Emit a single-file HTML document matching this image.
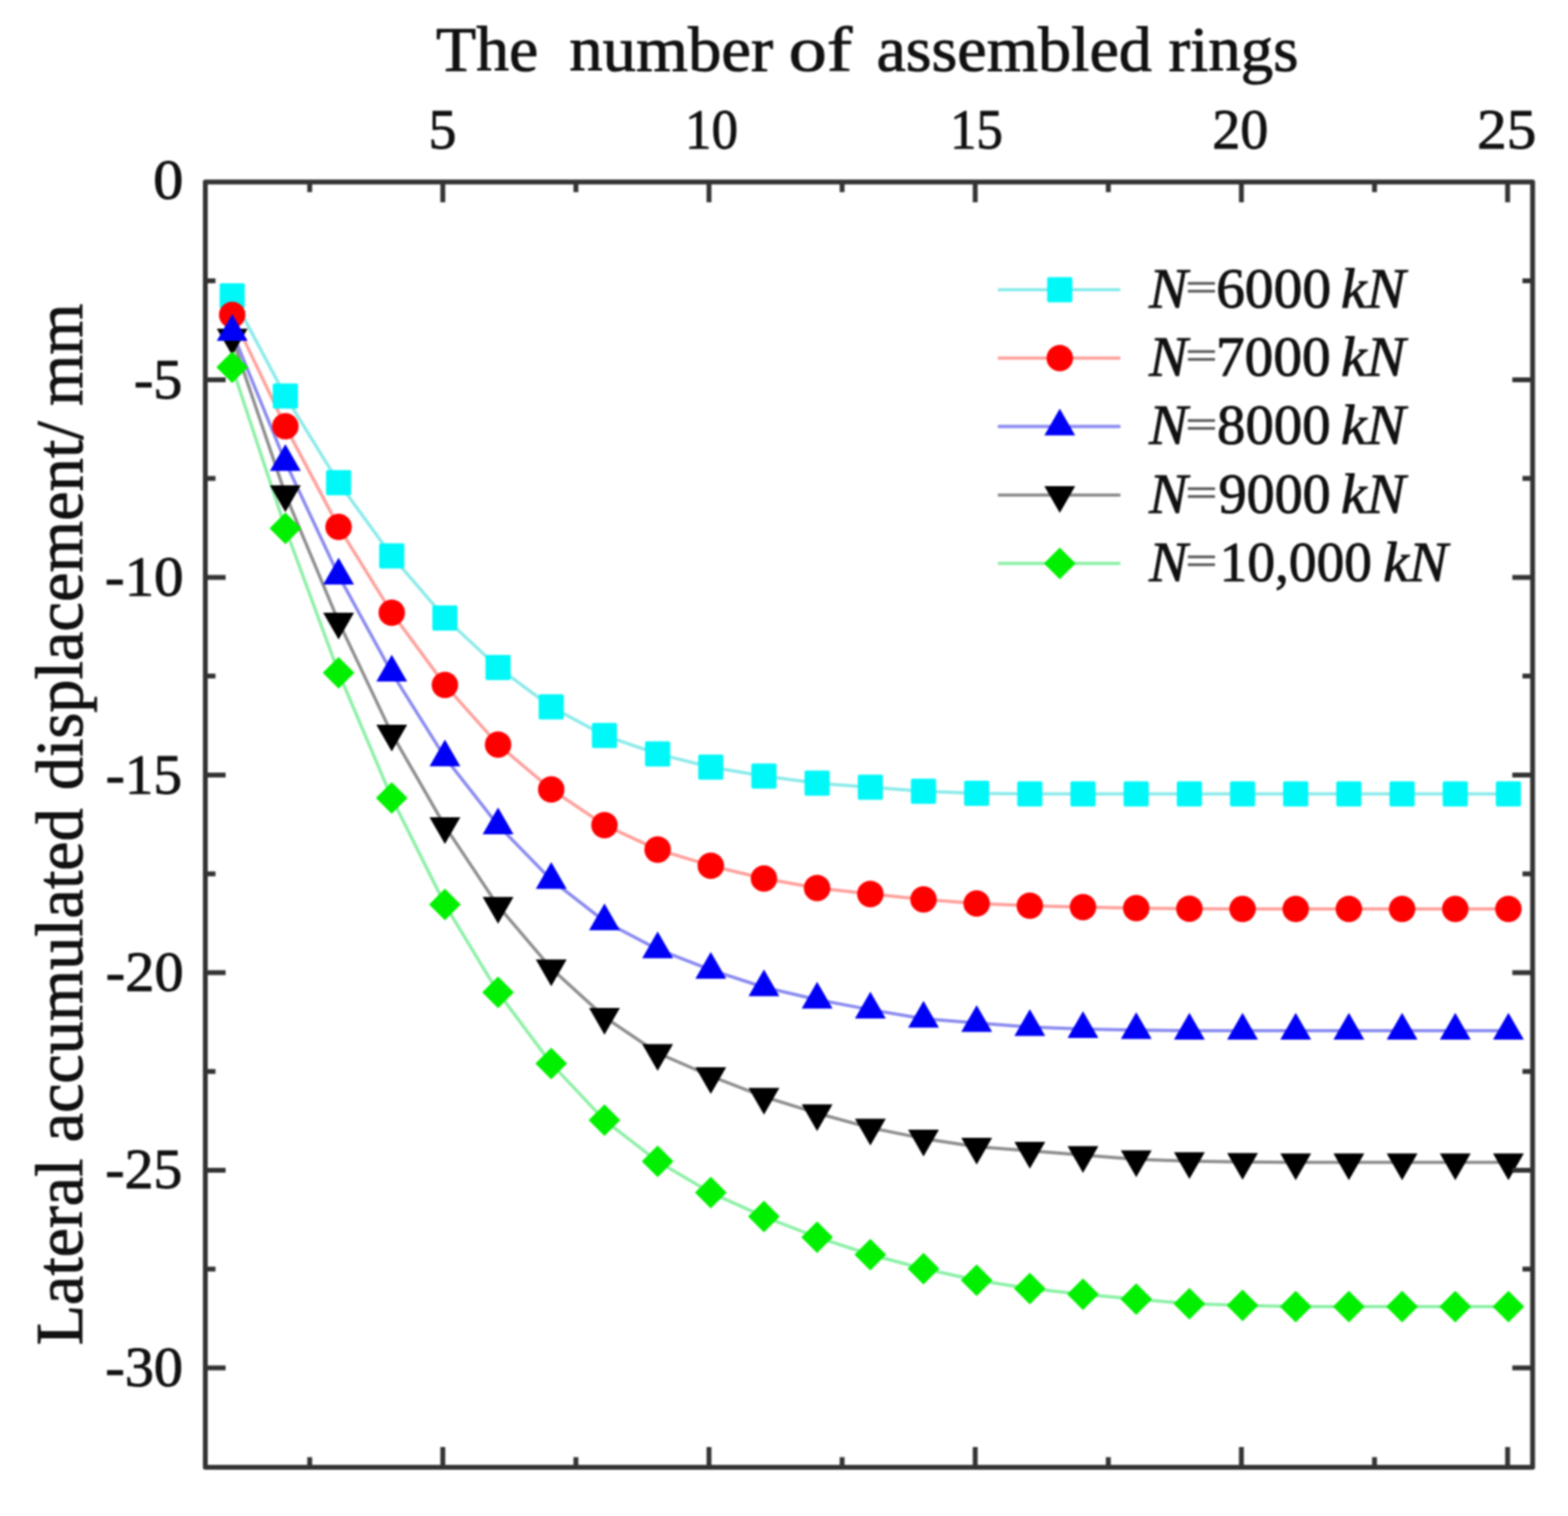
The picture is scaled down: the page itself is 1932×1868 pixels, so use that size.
<!DOCTYPE html>
<html><head><meta charset="utf-8"><title>Lateral accumulated displacement</title>
<style>html,body{margin:0;padding:0;background:#fff;}body{width:1932px;height:1868px;overflow:hidden;}svg{display:block;filter:blur(1.25px);}</style>
</head><body>
<svg width="1932" height="1868" viewBox="0 0 1932 1868">
<rect width="1932" height="1868" fill="#fff"/>
<g fill="none" stroke-width="4.0" stroke-linejoin="round" stroke-linecap="round">
<polyline points="286.1,364.5 351.6,488.0 417.2,594.7 482.7,684.9 548.2,761.4 613.7,822.4 679.2,871.1 744.8,906.3 810.3,928.9 875.8,945.2 941.3,956.3 1006.8,965.0 1072.4,969.9 1137.9,975.0 1203.4,977.5 1268.9,978.2 1334.4,978.3 1400.0,978.3 1465.5,978.3 1531.0,978.3 1596.5,978.3 1662.0,978.3 1727.6,978.3 1793.1,978.3 1858.6,978.3" stroke="#8ceaea"/>
<polyline points="286.1,388.0 351.6,525.3 417.2,649.3 482.7,755.0 548.2,844.0 613.7,917.5 679.2,972.7 744.8,1016.7 810.3,1046.9 875.8,1066.7 941.3,1082.5 1006.8,1094.2 1072.4,1101.6 1137.9,1108.2 1203.4,1113.3 1268.9,1116.0 1334.4,1117.8 1400.0,1119.0 1465.5,1119.7 1531.0,1120.0 1596.5,1120.0 1662.0,1120.0 1727.6,1120.0 1793.1,1120.0 1858.6,1120.0" stroke="#ffa09b"/>
<polyline points="286.1,409.0 351.6,569.2 417.2,709.2 482.7,828.8 548.2,933.3 613.7,1016.9 679.2,1084.2 744.8,1135.2 810.3,1169.7 875.8,1195.1 941.3,1216.5 1006.8,1231.7 1072.4,1244.1 1137.9,1255.3 1203.4,1260.4 1268.9,1265.5 1334.4,1268.0 1400.0,1269.3 1465.5,1270.0 1531.0,1270.0 1596.5,1270.0 1662.0,1270.0 1727.6,1270.0 1793.1,1270.0 1858.6,1270.0" stroke="#8a8af0"/>
<polyline points="286.1,416.0 351.6,609.0 417.2,766.0 482.7,904.0 548.2,1018.0 613.7,1116.3 679.2,1193.3 744.8,1253.1 810.3,1297.5 875.8,1326.0 941.3,1351.4 1006.8,1371.7 1072.4,1389.6 1137.9,1402.9 1203.4,1413.0 1268.9,1418.1 1334.4,1423.2 1400.0,1428.5 1465.5,1430.7 1531.0,1431.8 1596.5,1432.2 1662.0,1432.3 1727.6,1432.3 1793.1,1432.3 1858.6,1432.3" stroke="#8e8e8e"/>
<polyline points="286.1,452.5 351.6,650.9 417.2,828.9 482.7,983.3 548.2,1114.5 613.7,1222.8 679.2,1310.5 744.8,1380.3 810.3,1431.0 875.8,1469.6 941.3,1499.1 1006.8,1524.5 1072.4,1546.0 1137.9,1563.2 1203.4,1577.5 1268.9,1587.7 1334.4,1594.8 1400.0,1600.8 1465.5,1606.4 1531.0,1608.4 1596.5,1610.0 1662.0,1610.0 1727.6,1610.0 1793.1,1610.0 1858.6,1610.0" stroke="#8cf0a6"/>
</g>
<g>
<rect x="270.6" y="349.0" width="31.0" height="31.0" rx="2" fill="#00f8f8"/>
<rect x="336.1" y="472.5" width="31.0" height="31.0" rx="2" fill="#00f8f8"/>
<rect x="401.7" y="579.2" width="31.0" height="31.0" rx="2" fill="#00f8f8"/>
<rect x="467.2" y="669.4" width="31.0" height="31.0" rx="2" fill="#00f8f8"/>
<rect x="532.7" y="745.9" width="31.0" height="31.0" rx="2" fill="#00f8f8"/>
<rect x="598.2" y="806.9" width="31.0" height="31.0" rx="2" fill="#00f8f8"/>
<rect x="663.7" y="855.6" width="31.0" height="31.0" rx="2" fill="#00f8f8"/>
<rect x="729.3" y="890.8" width="31.0" height="31.0" rx="2" fill="#00f8f8"/>
<rect x="794.8" y="913.4" width="31.0" height="31.0" rx="2" fill="#00f8f8"/>
<rect x="860.3" y="929.7" width="31.0" height="31.0" rx="2" fill="#00f8f8"/>
<rect x="925.8" y="940.8" width="31.0" height="31.0" rx="2" fill="#00f8f8"/>
<rect x="991.3" y="949.5" width="31.0" height="31.0" rx="2" fill="#00f8f8"/>
<rect x="1056.9" y="954.4" width="31.0" height="31.0" rx="2" fill="#00f8f8"/>
<rect x="1122.4" y="959.5" width="31.0" height="31.0" rx="2" fill="#00f8f8"/>
<rect x="1187.9" y="962.0" width="31.0" height="31.0" rx="2" fill="#00f8f8"/>
<rect x="1253.4" y="962.7" width="31.0" height="31.0" rx="2" fill="#00f8f8"/>
<rect x="1318.9" y="962.8" width="31.0" height="31.0" rx="2" fill="#00f8f8"/>
<rect x="1384.5" y="962.8" width="31.0" height="31.0" rx="2" fill="#00f8f8"/>
<rect x="1450.0" y="962.8" width="31.0" height="31.0" rx="2" fill="#00f8f8"/>
<rect x="1515.5" y="962.8" width="31.0" height="31.0" rx="2" fill="#00f8f8"/>
<rect x="1581.0" y="962.8" width="31.0" height="31.0" rx="2" fill="#00f8f8"/>
<rect x="1646.5" y="962.8" width="31.0" height="31.0" rx="2" fill="#00f8f8"/>
<rect x="1712.1" y="962.8" width="31.0" height="31.0" rx="2" fill="#00f8f8"/>
<rect x="1777.6" y="962.8" width="31.0" height="31.0" rx="2" fill="#00f8f8"/>
<rect x="1843.1" y="962.8" width="31.0" height="31.0" rx="2" fill="#00f8f8"/>
</g>
<g>
<circle cx="286.1" cy="388.0" r="16.3" fill="#ff0000"/>
<circle cx="351.6" cy="525.3" r="16.3" fill="#ff0000"/>
<circle cx="417.2" cy="649.3" r="16.3" fill="#ff0000"/>
<circle cx="482.7" cy="755.0" r="16.3" fill="#ff0000"/>
<circle cx="548.2" cy="844.0" r="16.3" fill="#ff0000"/>
<circle cx="613.7" cy="917.5" r="16.3" fill="#ff0000"/>
<circle cx="679.2" cy="972.7" r="16.3" fill="#ff0000"/>
<circle cx="744.8" cy="1016.7" r="16.3" fill="#ff0000"/>
<circle cx="810.3" cy="1046.9" r="16.3" fill="#ff0000"/>
<circle cx="875.8" cy="1066.7" r="16.3" fill="#ff0000"/>
<circle cx="941.3" cy="1082.5" r="16.3" fill="#ff0000"/>
<circle cx="1006.8" cy="1094.2" r="16.3" fill="#ff0000"/>
<circle cx="1072.4" cy="1101.6" r="16.3" fill="#ff0000"/>
<circle cx="1137.9" cy="1108.2" r="16.3" fill="#ff0000"/>
<circle cx="1203.4" cy="1113.3" r="16.3" fill="#ff0000"/>
<circle cx="1268.9" cy="1116.0" r="16.3" fill="#ff0000"/>
<circle cx="1334.4" cy="1117.8" r="16.3" fill="#ff0000"/>
<circle cx="1400.0" cy="1119.0" r="16.3" fill="#ff0000"/>
<circle cx="1465.5" cy="1119.7" r="16.3" fill="#ff0000"/>
<circle cx="1531.0" cy="1120.0" r="16.3" fill="#ff0000"/>
<circle cx="1596.5" cy="1120.0" r="16.3" fill="#ff0000"/>
<circle cx="1662.0" cy="1120.0" r="16.3" fill="#ff0000"/>
<circle cx="1727.6" cy="1120.0" r="16.3" fill="#ff0000"/>
<circle cx="1793.1" cy="1120.0" r="16.3" fill="#ff0000"/>
<circle cx="1858.6" cy="1120.0" r="16.3" fill="#ff0000"/>
</g>
<g>
<path d="M267.1,405.0 L305.1,405.0 L286.1,438.0 Z" fill="#000000"/>
<path d="M332.6,598.0 L370.6,598.0 L351.6,631.0 Z" fill="#000000"/>
<path d="M398.2,755.0 L436.2,755.0 L417.2,788.0 Z" fill="#000000"/>
<path d="M463.7,893.0 L501.7,893.0 L482.7,926.0 Z" fill="#000000"/>
<path d="M529.2,1007.0 L567.2,1007.0 L548.2,1040.0 Z" fill="#000000"/>
<path d="M594.7,1105.3 L632.7,1105.3 L613.7,1138.3 Z" fill="#000000"/>
<path d="M660.2,1182.3 L698.2,1182.3 L679.2,1215.3 Z" fill="#000000"/>
<path d="M725.8,1242.1 L763.8,1242.1 L744.8,1275.1 Z" fill="#000000"/>
<path d="M791.3,1286.5 L829.3,1286.5 L810.3,1319.5 Z" fill="#000000"/>
<path d="M856.8,1315.0 L894.8,1315.0 L875.8,1348.0 Z" fill="#000000"/>
<path d="M922.3,1340.4 L960.3,1340.4 L941.3,1373.4 Z" fill="#000000"/>
<path d="M987.8,1360.7 L1025.8,1360.7 L1006.8,1393.7 Z" fill="#000000"/>
<path d="M1053.4,1378.6 L1091.4,1378.6 L1072.4,1411.6 Z" fill="#000000"/>
<path d="M1118.9,1391.9 L1156.9,1391.9 L1137.9,1424.9 Z" fill="#000000"/>
<path d="M1184.4,1402.0 L1222.4,1402.0 L1203.4,1435.0 Z" fill="#000000"/>
<path d="M1249.9,1407.1 L1287.9,1407.1 L1268.9,1440.1 Z" fill="#000000"/>
<path d="M1315.4,1412.2 L1353.4,1412.2 L1334.4,1445.2 Z" fill="#000000"/>
<path d="M1381.0,1417.5 L1419.0,1417.5 L1400.0,1450.5 Z" fill="#000000"/>
<path d="M1446.5,1419.7 L1484.5,1419.7 L1465.5,1452.7 Z" fill="#000000"/>
<path d="M1512.0,1420.8 L1550.0,1420.8 L1531.0,1453.8 Z" fill="#000000"/>
<path d="M1577.5,1421.2 L1615.5,1421.2 L1596.5,1454.2 Z" fill="#000000"/>
<path d="M1643.0,1421.3 L1681.0,1421.3 L1662.0,1454.3 Z" fill="#000000"/>
<path d="M1708.6,1421.3 L1746.6,1421.3 L1727.6,1454.3 Z" fill="#000000"/>
<path d="M1774.1,1421.3 L1812.1,1421.3 L1793.1,1454.3 Z" fill="#000000"/>
<path d="M1839.6,1421.3 L1877.6,1421.3 L1858.6,1454.3 Z" fill="#000000"/>
</g>
<g>
<path d="M286.1,387.0 L305.1,420.0 L267.1,420.0 Z" fill="#0000f6"/>
<path d="M351.6,547.2 L370.6,580.2 L332.6,580.2 Z" fill="#0000f6"/>
<path d="M417.2,687.2 L436.2,720.2 L398.2,720.2 Z" fill="#0000f6"/>
<path d="M482.7,806.8 L501.7,839.8 L463.7,839.8 Z" fill="#0000f6"/>
<path d="M548.2,911.3 L567.2,944.3 L529.2,944.3 Z" fill="#0000f6"/>
<path d="M613.7,994.9 L632.7,1027.9 L594.7,1027.9 Z" fill="#0000f6"/>
<path d="M679.2,1062.2 L698.2,1095.2 L660.2,1095.2 Z" fill="#0000f6"/>
<path d="M744.8,1113.2 L763.8,1146.2 L725.8,1146.2 Z" fill="#0000f6"/>
<path d="M810.3,1147.7 L829.3,1180.7 L791.3,1180.7 Z" fill="#0000f6"/>
<path d="M875.8,1173.1 L894.8,1206.1 L856.8,1206.1 Z" fill="#0000f6"/>
<path d="M941.3,1194.5 L960.3,1227.5 L922.3,1227.5 Z" fill="#0000f6"/>
<path d="M1006.8,1209.7 L1025.8,1242.7 L987.8,1242.7 Z" fill="#0000f6"/>
<path d="M1072.4,1222.1 L1091.4,1255.1 L1053.4,1255.1 Z" fill="#0000f6"/>
<path d="M1137.9,1233.3 L1156.9,1266.3 L1118.9,1266.3 Z" fill="#0000f6"/>
<path d="M1203.4,1238.4 L1222.4,1271.4 L1184.4,1271.4 Z" fill="#0000f6"/>
<path d="M1268.9,1243.5 L1287.9,1276.5 L1249.9,1276.5 Z" fill="#0000f6"/>
<path d="M1334.4,1246.0 L1353.4,1279.0 L1315.4,1279.0 Z" fill="#0000f6"/>
<path d="M1400.0,1247.3 L1419.0,1280.3 L1381.0,1280.3 Z" fill="#0000f6"/>
<path d="M1465.5,1248.0 L1484.5,1281.0 L1446.5,1281.0 Z" fill="#0000f6"/>
<path d="M1531.0,1248.0 L1550.0,1281.0 L1512.0,1281.0 Z" fill="#0000f6"/>
<path d="M1596.5,1248.0 L1615.5,1281.0 L1577.5,1281.0 Z" fill="#0000f6"/>
<path d="M1662.0,1248.0 L1681.0,1281.0 L1643.0,1281.0 Z" fill="#0000f6"/>
<path d="M1727.6,1248.0 L1746.6,1281.0 L1708.6,1281.0 Z" fill="#0000f6"/>
<path d="M1793.1,1248.0 L1812.1,1281.0 L1774.1,1281.0 Z" fill="#0000f6"/>
<path d="M1858.6,1248.0 L1877.6,1281.0 L1839.6,1281.0 Z" fill="#0000f6"/>
</g>
<g>
<path d="M286.1,433.0 L305.6,452.5 L286.1,472.0 L266.6,452.5 Z" fill="#00f000"/>
<path d="M351.6,631.4 L371.1,650.9 L351.6,670.4 L332.1,650.9 Z" fill="#00f000"/>
<path d="M417.2,809.4 L436.7,828.9 L417.2,848.4 L397.7,828.9 Z" fill="#00f000"/>
<path d="M482.7,963.8 L502.2,983.3 L482.7,1002.8 L463.2,983.3 Z" fill="#00f000"/>
<path d="M548.2,1095.0 L567.7,1114.5 L548.2,1134.0 L528.7,1114.5 Z" fill="#00f000"/>
<path d="M613.7,1203.3 L633.2,1222.8 L613.7,1242.3 L594.2,1222.8 Z" fill="#00f000"/>
<path d="M679.2,1291.0 L698.7,1310.5 L679.2,1330.0 L659.7,1310.5 Z" fill="#00f000"/>
<path d="M744.8,1360.8 L764.3,1380.3 L744.8,1399.8 L725.3,1380.3 Z" fill="#00f000"/>
<path d="M810.3,1411.5 L829.8,1431.0 L810.3,1450.5 L790.8,1431.0 Z" fill="#00f000"/>
<path d="M875.8,1450.1 L895.3,1469.6 L875.8,1489.1 L856.3,1469.6 Z" fill="#00f000"/>
<path d="M941.3,1479.6 L960.8,1499.1 L941.3,1518.6 L921.8,1499.1 Z" fill="#00f000"/>
<path d="M1006.8,1505.0 L1026.3,1524.5 L1006.8,1544.0 L987.3,1524.5 Z" fill="#00f000"/>
<path d="M1072.4,1526.5 L1091.9,1546.0 L1072.4,1565.5 L1052.9,1546.0 Z" fill="#00f000"/>
<path d="M1137.9,1543.7 L1157.4,1563.2 L1137.9,1582.7 L1118.4,1563.2 Z" fill="#00f000"/>
<path d="M1203.4,1558.0 L1222.9,1577.5 L1203.4,1597.0 L1183.9,1577.5 Z" fill="#00f000"/>
<path d="M1268.9,1568.2 L1288.4,1587.7 L1268.9,1607.2 L1249.4,1587.7 Z" fill="#00f000"/>
<path d="M1334.4,1575.3 L1353.9,1594.8 L1334.4,1614.3 L1314.9,1594.8 Z" fill="#00f000"/>
<path d="M1400.0,1581.3 L1419.5,1600.8 L1400.0,1620.3 L1380.5,1600.8 Z" fill="#00f000"/>
<path d="M1465.5,1586.9 L1485.0,1606.4 L1465.5,1625.9 L1446.0,1606.4 Z" fill="#00f000"/>
<path d="M1531.0,1588.9 L1550.5,1608.4 L1531.0,1627.9 L1511.5,1608.4 Z" fill="#00f000"/>
<path d="M1596.5,1590.5 L1616.0,1610.0 L1596.5,1629.5 L1577.0,1610.0 Z" fill="#00f000"/>
<path d="M1662.0,1590.5 L1681.5,1610.0 L1662.0,1629.5 L1642.5,1610.0 Z" fill="#00f000"/>
<path d="M1727.6,1590.5 L1747.1,1610.0 L1727.6,1629.5 L1708.1,1610.0 Z" fill="#00f000"/>
<path d="M1793.1,1590.5 L1812.6,1610.0 L1793.1,1629.5 L1773.6,1610.0 Z" fill="#00f000"/>
<path d="M1858.6,1590.5 L1878.1,1610.0 L1858.6,1629.5 L1839.1,1610.0 Z" fill="#00f000"/>
</g>
<path d="M381.6,224.2V236.7 M381.6,1808.0V1795.5 M545.6,224.2V249.2 M545.6,1808.0V1783.0 M709.6,224.2V236.7 M709.6,1808.0V1795.5 M873.6,224.2V249.2 M873.6,1808.0V1783.0 M1037.6,224.2V236.7 M1037.6,1808.0V1795.5 M1201.6,224.2V249.2 M1201.6,1808.0V1783.0 M1365.6,224.2V236.7 M1365.6,1808.0V1795.5 M1529.6,224.2V249.2 M1529.6,1808.0V1783.0 M1693.6,224.2V236.7 M1693.6,1808.0V1795.5 M1857.6,224.2V249.2 M1857.6,1808.0V1783.0 M253.0,346.1H265.5 M1888.4,346.1H1875.9 M253.0,467.9H278.0 M1888.4,467.9H1863.4 M253.0,589.6H265.5 M1888.4,589.6H1875.9 M253.0,711.4H278.0 M1888.4,711.4H1863.4 M253.0,833.1H265.5 M1888.4,833.1H1875.9 M253.0,954.9H278.0 M1888.4,954.9H1863.4 M253.0,1076.7H265.5 M1888.4,1076.7H1875.9 M253.0,1198.4H278.0 M1888.4,1198.4H1863.4 M253.0,1320.2H265.5 M1888.4,1320.2H1875.9 M253.0,1441.9H278.0 M1888.4,1441.9H1863.4 M253.0,1563.7H265.5 M1888.4,1563.7H1875.9 M253.0,1685.4H278.0 M1888.4,1685.4H1863.4" stroke="#333333" stroke-width="6.0" fill="none"/>
<rect x="253.0" y="224.2" width="1635.4" height="1583.8" fill="none" stroke="#333333" stroke-width="6.0" stroke-linejoin="round"/>
<g font-family="'Liberation Serif','Times New Roman',serif" fill="#111" stroke="#111" stroke-width="1.1" stroke-linejoin="round">
<text x="528.1" y="183.0" font-size="70.5" textLength="34.4" lengthAdjust="spacingAndGlyphs">5</text>
<text x="844.1" y="183.0" font-size="70.5" textLength="65.3" lengthAdjust="spacingAndGlyphs">10</text>
<text x="1170.4" y="183.0" font-size="70.5" textLength="65.4" lengthAdjust="spacingAndGlyphs">15</text>
<text x="1493.7" y="183.0" font-size="70.5" textLength="69.0" lengthAdjust="spacingAndGlyphs">20</text>
<text x="1820.0" y="183.0" font-size="70.5" textLength="72.9" lengthAdjust="spacingAndGlyphs">25</text>
<text x="188.8" y="245.4" font-size="70.5" textLength="37.2" lengthAdjust="spacingAndGlyphs">0</text>
<text x="164.9" y="490.9" font-size="70.5" textLength="59.8" lengthAdjust="spacingAndGlyphs">-5</text>
<text x="129.2" y="734.4" font-size="70.5" textLength="97.1" lengthAdjust="spacingAndGlyphs">-10</text>
<text x="130.3" y="977.9" font-size="70.5" textLength="94.0" lengthAdjust="spacingAndGlyphs">-15</text>
<text x="130.2" y="1221.4" font-size="70.5" textLength="96.0" lengthAdjust="spacingAndGlyphs">-20</text>
<text x="129.8" y="1463.9" font-size="70.5" textLength="94.9" lengthAdjust="spacingAndGlyphs">-25</text>
<text x="129.7" y="1708.4" font-size="70.5" textLength="95.9" lengthAdjust="spacingAndGlyphs">-30</text>
<text x="537.3" y="87.0" font-size="78.5" textLength="125.8" lengthAdjust="spacingAndGlyphs">The</text>
<text x="701.5" y="87.0" font-size="78.5" textLength="251.1" lengthAdjust="spacingAndGlyphs">number</text>
<text x="971.7" y="87.0" font-size="78.5" textLength="78.3" lengthAdjust="spacingAndGlyphs">of</text>
<text x="1079.9" y="87.0" font-size="78.5" textLength="339.4" lengthAdjust="spacingAndGlyphs">assembled</text>
<text x="1439.8" y="87.0" font-size="78.5" textLength="160.2" lengthAdjust="spacingAndGlyphs">rings</text>
<g transform="translate(100.8,0) rotate(-90)">
<text x="-1657.5" y="0.0" font-size="82" textLength="230.0" lengthAdjust="spacingAndGlyphs">Lateral</text>
<text x="-1407.5" y="0.0" font-size="82" textLength="411.4" lengthAdjust="spacingAndGlyphs">accumulated</text>
<text x="-973.7" y="0.0" font-size="82" textLength="454.6" lengthAdjust="spacingAndGlyphs">displacement/</text>
<text x="-500.3" y="0.0" font-size="82" textLength="126.3" lengthAdjust="spacingAndGlyphs">mm</text>
</g>
</g>
<g>
<path d="M1229.5,357.0H1380.5" stroke="#8ceaea" stroke-width="4.0"/>
<rect x="1290.3" y="341.5" width="31.0" height="31.0" rx="2" fill="#00f8f8"/>
<path d="M1229.5,441.3H1380.5" stroke="#ffa09b" stroke-width="4.0"/>
<circle cx="1305.8" cy="441.3" r="16.3" fill="#ff0000"/>
<path d="M1229.5,525.6H1380.5" stroke="#8a8af0" stroke-width="4.0"/>
<path d="M1305.8,503.6 L1324.8,536.6 L1286.8,536.6 Z" fill="#0000f6"/>
<path d="M1229.5,609.9H1380.5" stroke="#8e8e8e" stroke-width="4.0"/>
<path d="M1286.8,598.9 L1324.8,598.9 L1305.8,631.9 Z" fill="#000000"/>
<path d="M1229.5,694.2H1380.5" stroke="#8cf0a6" stroke-width="4.0"/>
<path d="M1305.8,674.7 L1325.3,694.2 L1305.8,713.7 L1286.3,694.2 Z" fill="#00f000"/>
</g>
<g font-family="'Liberation Serif','Times New Roman',serif" fill="#111" stroke="#111" stroke-width="1.1" stroke-linejoin="round">
<text x="1415.8" y="378.6" font-size="69.5" textLength="47.5" lengthAdjust="spacingAndGlyphs" font-style="italic">N</text>
<text x="1460.7" y="369.9" font-size="49" textLength="39.1" lengthAdjust="spacingAndGlyphs" fill="#5a5a5a" stroke="#5a5a5a" stroke-width="0.9">=</text>
<text x="1498.4" y="378.6" font-size="69.5" textLength="141.7" lengthAdjust="spacingAndGlyphs">6000</text>
<text x="1652.2" y="378.6" font-size="69.5" textLength="79.4" lengthAdjust="spacingAndGlyphs" font-style="italic">kN</text>
<text x="1415.8" y="462.9" font-size="69.5" textLength="47.5" lengthAdjust="spacingAndGlyphs" font-style="italic">N</text>
<text x="1460.7" y="454.2" font-size="49" textLength="39.1" lengthAdjust="spacingAndGlyphs" fill="#5a5a5a" stroke="#5a5a5a" stroke-width="0.9">=</text>
<text x="1498.3" y="462.9" font-size="69.5" textLength="141.3" lengthAdjust="spacingAndGlyphs">7000</text>
<text x="1652.2" y="462.9" font-size="69.5" textLength="79.4" lengthAdjust="spacingAndGlyphs" font-style="italic">kN</text>
<text x="1415.8" y="547.2" font-size="69.5" textLength="47.5" lengthAdjust="spacingAndGlyphs" font-style="italic">N</text>
<text x="1460.7" y="538.5" font-size="49" textLength="39.1" lengthAdjust="spacingAndGlyphs" fill="#5a5a5a" stroke="#5a5a5a" stroke-width="0.9">=</text>
<text x="1499.5" y="547.2" font-size="69.5" textLength="140.1" lengthAdjust="spacingAndGlyphs">8000</text>
<text x="1652.2" y="547.2" font-size="69.5" textLength="79.4" lengthAdjust="spacingAndGlyphs" font-style="italic">kN</text>
<text x="1415.8" y="631.5" font-size="69.5" textLength="47.5" lengthAdjust="spacingAndGlyphs" font-style="italic">N</text>
<text x="1460.7" y="622.8" font-size="49" textLength="39.1" lengthAdjust="spacingAndGlyphs" fill="#5a5a5a" stroke="#5a5a5a" stroke-width="0.9">=</text>
<text x="1501.4" y="631.5" font-size="69.5" textLength="138.2" lengthAdjust="spacingAndGlyphs">9000</text>
<text x="1652.2" y="631.5" font-size="69.5" textLength="79.4" lengthAdjust="spacingAndGlyphs" font-style="italic">kN</text>
<text x="1415.8" y="715.8" font-size="69.5" textLength="47.5" lengthAdjust="spacingAndGlyphs" font-style="italic">N</text>
<text x="1460.7" y="707.1" font-size="49" textLength="39.1" lengthAdjust="spacingAndGlyphs" fill="#5a5a5a" stroke="#5a5a5a" stroke-width="0.9">=</text>
<text x="1502.8" y="715.8" font-size="69.5" textLength="187.6" lengthAdjust="spacingAndGlyphs">10,000</text>
<text x="1704.3" y="715.8" font-size="69.5" textLength="79.5" lengthAdjust="spacingAndGlyphs" font-style="italic">kN</text>
</g>
</svg>
</body></html>
